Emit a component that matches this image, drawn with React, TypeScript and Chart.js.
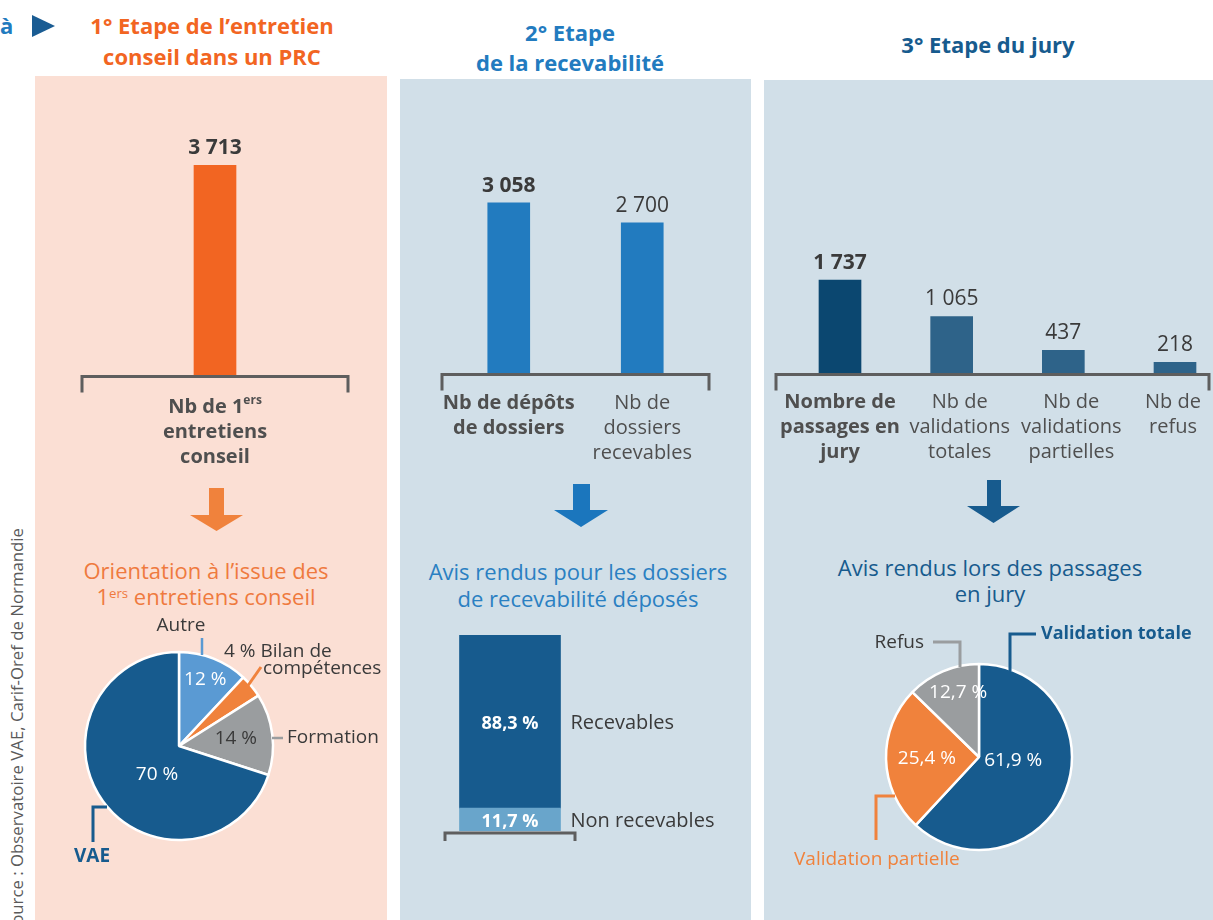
import React, { useEffect, useRef } from "react";
import { Chart, registerables } from "chart.js";

Chart.register(...registerables);

// ---------- DATA ----------
const STEP1_LABELS = [["Nb de 1{ers}", "entretiens", "conseil"]];
const STEP1_VALUES = [3713];

const STEP2_LABELS = [["Nb de dépôts", "de dossiers"], ["Nb de", "dossiers", "recevables"]];
const STEP2_VALUES = [3058, 2700];

const STEP3_LABELS = [
  ["Nombre de", "passages en", "jury"],
  ["Nb de", "validations", "totales"],
  ["Nb de", "validations", "partielles"],
  ["Nb de", "refus"],
];
const STEP3_VALUES = [1737, 1065, 437, 218];

const ORIENT_LABELS = ["Autre", "Bilan de compétences", "Formation", "VAE"];
const ORIENT_VALUES = [12, 4, 14, 70];

const RECEV_LABELS = ["Non recevables", "Recevables"];
const RECEV_VALUES = [11.7, 88.3];

const JURY_LABELS = ["Validation totale", "Validation partielle", "Refus"];
const JURY_VALUES = [61.9, 25.4, 12.7];

const BAR_MAX = 4000;

// ---------- STYLE ----------
const FONT = '"Open Sans", "DejaVu Sans", sans-serif';
const TEXT_DARK = "#3a3a3a";
const LABEL_GREY = "#4f4f4f";
const AXIS_GREY = "#5e5e5e";
const ORANGE = "#f26522";
const ORANGE_LIGHT = "#f0823c";
const BLUE = "#227bbf";
const NAVY = "#175b8e";
const GREY = "#9a9d9f";
const LIGHT_BLUE = "#5a9ad3";

const font = (size: number, weight: number) => `${weight} ${size}px ${FONT}`;
const fmtInt = (v: number) => String(v).replace(/\B(?=(\d{3})+(?!\d))/g, " ");
const fmtPct = (v: number) =>
  Number.isInteger(v) ? `${v} %` : `${v.toFixed(1).replace(".", ",")} %`;

function drawRich(ctx: any, text: string, cx: number, cy: number, size: number, weight: number, color: string) {
  const parts = text.split(/[{}]/);
  const widths = parts.map((p, i) => {
    ctx.font = font(i % 2 ? Math.round(size * 0.6) : size, weight);
    return ctx.measureText(p).width;
  });
  const total = widths.reduce((a, b) => a + b, 0);
  let x = cx - total / 2;
  ctx.fillStyle = color;
  ctx.textAlign = "left";
  ctx.textBaseline = "middle";
  parts.forEach((p, i) => {
    ctx.font = font(i % 2 ? Math.round(size * 0.6) : size, weight);
    ctx.fillText(p, x, i % 2 ? cy - size * 0.32 : cy);
    x += widths[i];
  });
}

type BarOpts = {
  lines: string[][];
  bold: boolean[];
  bracketLeft: number;
  bracketRight: number;
  labelTop: number;
  labelShift: number[];
};

function barPlugin(o: BarOpts) {
  return {
    id: "barDecor",
    afterDatasetsDraw(chart: any) {
      const { ctx, chartArea: ca } = chart;
      ctx.save();
      ctx.strokeStyle = AXIS_GREY;
      ctx.lineWidth = 3;
      const l = ca.left - o.bracketLeft;
      const r = ca.right + o.bracketRight;
      const b = ca.bottom + 0.5;
      ctx.beginPath();
      ctx.moveTo(l, b + 16);
      ctx.lineTo(l, b);
      ctx.lineTo(r, b);
      ctx.lineTo(r, b + 16);
      ctx.stroke();
      const meta = chart.getDatasetMeta(0);
      const vals = chart.data.datasets[0].data;
      meta.data.forEach((el: any, i: number) => {
        const { x, y } = el.getProps(["x", "y"], true);
        ctx.fillStyle = TEXT_DARK;
        ctx.textAlign = "center";
        ctx.textBaseline = "middle";
        ctx.font = font(21, o.bold[i] ? 700 : 400);
        ctx.fillText(fmtInt(vals[i]), x, y - 17);
        o.lines[i].forEach((ln, j) =>
          drawRich(ctx, ln, x + o.labelShift[i], ca.bottom + o.labelTop + j * 25, 20, o.bold[i] ? 700 : 400, LABEL_GREY)
        );
      });
      ctx.restore();
    },
  };
}

function barConfig(values: number[], colors: string[], pad: any, offset: boolean, o: BarOpts, labels: string[][]) {
  return {
    type: "bar",
    data: {
      labels: labels.map((l) => l.join(" ").replace(/[{}]/g, "")),
      datasets: [{ data: values, backgroundColor: colors, barThickness: 42, clip: false }],
    },
    options: {
      animation: false,
      responsive: false,
      devicePixelRatio: 1,
      layout: { padding: pad },
      scales: {
        x: { display: false, offset },
        y: { display: false, min: 0, max: BAR_MAX },
      },
      plugins: { legend: { display: false }, tooltip: { enabled: false } },
    },
    plugins: [barPlugin(o)],
  };
}

type PieNote = {
  line: number[][];
  lineColor: string;
  lw: number;
  texts: { text: string; dx: number; dy: number; align: string; color: string; size: number; weight: number }[];
};
type PieInner = { r: number; da: number; color: string; size: number; weight: number; show: boolean };

function piePlugin(inner: PieInner[], notes: PieNote[]) {
  return {
    id: "pieDecor",
    afterDatasetsDraw(chart: any) {
      const { ctx } = chart;
      const meta = chart.getDatasetMeta(0);
      const vals = chart.data.datasets[0].data;
      let cx = 0, cy = 0;
      ctx.save();
      meta.data.forEach((arc: any, i: number) => {
        const p = arc.getProps(["x", "y", "startAngle", "endAngle", "outerRadius"], true);
        cx = p.x;
        cy = p.y;
        const s = inner[i];
        if (!s.show) return;
        const mid = (p.startAngle + p.endAngle) / 2 + (s.da * Math.PI) / 180;
        const r = p.outerRadius * s.r;
        ctx.font = font(s.size, s.weight);
        ctx.fillStyle = s.color;
        ctx.textAlign = "center";
        ctx.textBaseline = "middle";
        ctx.fillText(fmtPct(vals[i]), p.x + Math.cos(mid) * r, p.y + Math.sin(mid) * r);
      });
      notes.forEach((n) => {
        ctx.strokeStyle = n.lineColor;
        ctx.lineWidth = n.lw;
        ctx.beginPath();
        n.line.forEach(([dx, dy], k) => (k ? ctx.lineTo(cx + dx, cy + dy) : ctx.moveTo(cx + dx, cy + dy)));
        ctx.stroke();
        n.texts.forEach((t) => {
          ctx.font = font(t.size, t.weight);
          ctx.fillStyle = t.color;
          ctx.textAlign = t.align;
          ctx.textBaseline = "middle";
          ctx.fillText(t.text, cx + t.dx, cy + t.dy);
        });
      });
      ctx.restore();
    },
  };
}

function pieConfig(values: number[], labels: string[], colors: string[], radius: number, pad: any, plugin: any) {
  return {
    type: "pie",
    data: {
      labels,
      datasets: [{ data: values, backgroundColor: colors, borderColor: "#ffffff", borderWidth: 2.5, radius }],
    },
    options: {
      animation: false,
      responsive: false,
      devicePixelRatio: 1,
      layout: { padding: pad },
      plugins: { legend: { display: false }, tooltip: { enabled: false } },
    },
    plugins: [plugin],
  };
}

function stackConfig() {
  const plugin = {
    id: "stackDecor",
    afterDatasetsDraw(chart: any) {
      const { ctx, chartArea: ca } = chart;
      ctx.save();
      chart.data.datasets.forEach((ds: any, i: number) => {
        const el = chart.getDatasetMeta(i).data[0];
        const { x, y, base, width } = el.getProps(["x", "y", "base", "width"], true);
        const cy = (y + base) / 2;
        ctx.fillStyle = "#ffffff";
        ctx.font = font(18, 700);
        ctx.textAlign = "center";
        ctx.textBaseline = "middle";
        ctx.fillText(fmtPct(ds.data[0]), x, cy + 2);
        ctx.fillStyle = TEXT_DARK;
        ctx.font = font(20, 400);
        ctx.textAlign = "left";
        ctx.fillText(ds.label, x + width / 2 + 10, cy + 2);
      });
      ctx.strokeStyle = AXIS_GREY;
      ctx.lineWidth = 3;
      const b = ca.bottom + 2;
      ctx.beginPath();
      ctx.moveTo(ca.left, b + 8);
      ctx.lineTo(ca.left, b);
      ctx.lineTo(ca.right, b);
      ctx.lineTo(ca.right, b + 8);
      ctx.stroke();
      ctx.restore();
    },
  };
  return {
    type: "bar",
    data: {
      labels: [""],
      datasets: [
        { label: RECEV_LABELS[0], data: [RECEV_VALUES[0]], backgroundColor: "#69a5cb", barThickness: 101 },
        { label: RECEV_LABELS[1], data: [RECEV_VALUES[1]], backgroundColor: NAVY, barThickness: 101 },
      ],
    },
    options: {
      animation: false,
      responsive: false,
      devicePixelRatio: 1,
      layout: { padding: { left: 45, right: 176, top: 25, bottom: 39 } },
      scales: {
        x: { display: false, stacked: true },
        y: { display: false, stacked: true, min: 0, max: 100 },
      },
      plugins: { legend: { display: false }, tooltip: { enabled: false } },
    },
    plugins: [plugin],
  };
}

function ChartBox({ left, top, width, height, make }: any) {
  const ref = useRef<HTMLCanvasElement | null>(null);
  useEffect(() => {
    const chart = new Chart(ref.current as any, make());
    return () => chart.destroy();
  }, []);
  return (
    <canvas
      ref={ref}
      width={width}
      height={height}
      style={{ position: "absolute", left, top, width, height }}
    />
  );
}

function Txt({ cx, top, w = 400, lh, size, weight = 400, color, children }: any) {
  return (
    <div
      style={{
        position: "absolute",
        left: cx - w / 2,
        top,
        width: w,
        textAlign: "center",
        fontSize: size,
        lineHeight: `${lh}px`,
        fontWeight: weight,
        color,
        whiteSpace: "nowrap",
      }}
    >
      {children}
    </div>
  );
}

const sup = { fontSize: "0.6em", verticalAlign: "0.55em", lineHeight: 0 } as any;

export default function App() {
  const orientSplit = ORIENT_LABELS[1].split(" ");
  const orientPie = () =>
    pieConfig(
      ORIENT_VALUES,
      ORIENT_LABELS,
      [LIGHT_BLUE, ORANGE_LIGHT, GREY, NAVY],
      94,
      { left: 44, right: 108, top: 106, bottom: 74 },
      piePlugin(
        [
          { r: 0.76, da: 0, color: "#ffffff", size: 19, weight: 400, show: true },
          { r: 0.7, da: 0, color: "#ffffff", size: 19, weight: 400, show: false },
          { r: 0.61, da: 0, color: TEXT_DARK, size: 19, weight: 400, show: true },
          { r: 0.38, da: -16, color: "#ffffff", size: 19, weight: 400, show: true },
        ],
        [
          {
            line: [[23, -108], [23, -91]],
            lineColor: LIGHT_BLUE,
            lw: 2.5,
            texts: [{ text: ORIENT_LABELS[0], dx: 2, dy: -120, align: "center", color: TEXT_DARK, size: 19, weight: 400 }],
          },
          {
            line: [[82, -79], [68, -59]],
            lineColor: ORANGE_LIGHT,
            lw: 3,
            texts: [
              { text: `${fmtPct(ORIENT_VALUES[1])} ${orientSplit.slice(0, 2).join(" ")}`, dx: 45, dy: -94, align: "left", color: TEXT_DARK, size: 19, weight: 400 },
              { text: orientSplit.slice(2).join(" "), dx: 84, dy: -77, align: "left", color: TEXT_DARK, size: 19, weight: 400 },
            ],
          },
          {
            line: [[93, -8], [104, -8]],
            lineColor: GREY,
            lw: 2.5,
            texts: [{ text: ORIENT_LABELS[2], dx: 108, dy: -8, align: "left", color: TEXT_DARK, size: 19, weight: 400 }],
          },
          {
            line: [[-86, 96], [-86, 61], [-72, 61]],
            lineColor: NAVY,
            lw: 3,
            texts: [{ text: ORIENT_LABELS[3], dx: -87, dy: 111, align: "center", color: NAVY, size: 19, weight: 700 }],
          },
        ]
      )
    );

  const juryPie = () =>
    pieConfig(
      JURY_VALUES,
      JURY_LABELS,
      [NAVY, ORANGE_LIGHT, GREY],
      93,
      { left: 115, right: 134, top: 117, bottom: 63 },
      piePlugin(
        [
          { r: 0.37, da: -16, color: "#ffffff", size: 19, weight: 400, show: true },
          { r: 0.56, da: 0, color: "#ffffff", size: 19, weight: 400, show: true },
          { r: 0.73, da: 5, color: "#ffffff", size: 19, weight: 400, show: true },
        ],
        [
          {
            line: [[57, -123], [31, -123], [31, -86]],
            lineColor: NAVY,
            lw: 3,
            texts: [{ text: JURY_LABELS[0], dx: 62, dy: -123, align: "left", color: NAVY, size: 18, weight: 700 }],
          },
          {
            line: [[-103, 83], [-103, 39], [-84, 39]],
            lineColor: ORANGE_LIGHT,
            lw: 3,
            texts: [{ text: JURY_LABELS[1], dx: -185, dy: 103, align: "left", color: ORANGE_LIGHT, size: 19, weight: 400 }],
          },
          {
            line: [[-46, -115], [-19, -115], [-19, -90]],
            lineColor: GREY,
            lw: 3,
            texts: [{ text: JURY_LABELS[2], dx: -55, dy: -114, align: "right", color: TEXT_DARK, size: 19, weight: 400 }],
          },
        ]
      )
    );

  return (
    <div
      style={{
        position: "absolute",
        left: 0,
        top: 0,
        width: 1213,
        height: 920,
        overflow: "hidden",
        background: "#ffffff",
        fontFamily: FONT,
      }}
    >
      {/* panels */}
      <div style={{ position: "absolute", left: 35, top: 76, width: 352, height: 844, background: "#fbdfd4" }} />
      <div style={{ position: "absolute", left: 400, top: 79, width: 351, height: 841, background: "#d1dfe8" }} />
      <div style={{ position: "absolute", left: 764, top: 80, width: 449, height: 840, background: "#d1dfe8" }} />

      {/* headers */}
      <div style={{ position: "absolute", left: 0, top: 10, fontSize: 22, lineHeight: "30px", fontWeight: 700, color: BLUE }}>à</div>
      <Txt cx={212} top={10} lh={31} size={22} weight={700} color={ORANGE}>
        1° Etape de l’entretien
        <br />
        conseil dans un PRC
      </Txt>
      <Txt cx={570} top={17} lh={30} size={22} weight={700} color={BLUE}>
        2° Etape
        <br />
        de la recevabilité
      </Txt>
      <Txt cx={988} top={29} lh={30} size={22} weight={700} color={NAVY}>
        3° Etape du jury
      </Txt>

      {/* sub titles */}
      <Txt cx={206} top={557} lh={26} size={22} color="#ef7a3e">
        Orientation à l’issue des
        <br />
        1<span style={sup}>ers</span> entretiens conseil
      </Txt>
      <Txt cx={578} top={558} lh={27} size={22} color="#2a80c2">
        Avis rendus pour les dossiers
        <br />
        de recevabilité déposés
      </Txt>
      <Txt cx={990} top={554} lh={26} size={22} color={NAVY}>
        Avis rendus lors des passages
        <br />
        en jury
      </Txt>

      {/* arrows */}
      <svg width={1213} height={920} style={{ position: "absolute", left: 0, top: 0 }}>
        <polygon points="32,15 55,26 32,37" fill="#1a5c93" />
        <polygon points="209,488 224,488 224,515 243,515 216.5,531 190,515 209,515" fill={ORANGE_LIGHT} />
        <polygon points="573,484 590,484 590,510 608,510 581,527 554,510 573,510" fill="#1b76bd" />
        <polygon points="987,480 1001,480 1001,506 1020,506 993.5,523 967,506 987,506" fill={NAVY} />
      </svg>

      {/* source */}
      <div
        style={{
          position: "absolute",
          left: 5,
          top: 948,
          width: 420,
          height: 24,
          lineHeight: "24px",
          fontSize: 16.8,
          color: "#5a5a5a",
          textAlign: "right",
          whiteSpace: "nowrap",
          transformOrigin: "0 0",
          transform: "rotate(-90deg)",
        }}
      >
        Source : Observatoire VAE, Carif-Oref de Normandie
      </div>

      {/* charts */}
      <ChartBox
        left={35}
        top={100}
        width={352}
        height={380}
        make={() =>
          barConfig(STEP1_VALUES, [ORANGE], { left: 47, right: 39, top: 49, bottom: 104 }, true,
            { lines: STEP1_LABELS, bold: [true], bracketLeft: 0, bracketRight: 0, labelTop: 31, labelShift: [0] }, STEP1_LABELS)
        }
      />
      <ChartBox
        left={400}
        top={100}
        width={351}
        height={380}
        make={() =>
          barConfig(STEP2_VALUES, [BLUE, BLUE], { left: 42, right: 42, top: 50, bottom: 106 }, true,
            { lines: STEP2_LABELS, bold: [true, false], bracketLeft: 0, bracketRight: 0, labelTop: 29, labelShift: [0, 0] }, STEP2_LABELS)
        }
      />
      <ChartBox
        left={764}
        top={100}
        width={449}
        height={380}
        make={() =>
          barConfig(STEP3_VALUES, ["#0b4770", "#2e6389", "#2e6389", "#2e6389"], { left: 76, right: 38, top: 58, bottom: 106 }, false,
            { lines: STEP3_LABELS, bold: [true, false, false, false], bracketLeft: 64, bracketRight: 34, labelTop: 28, labelShift: [0, 8, 8, -2] }, STEP3_LABELS)
        }
      />
      <ChartBox left={35} top={540} width={352} height={380} make={orientPie} />
      <ChartBox left={400} top={610} width={351} height={260} make={stackConfig} />
      <ChartBox left={764} top={540} width={449} height={380} make={juryPie} />
    </div>
  );
}
